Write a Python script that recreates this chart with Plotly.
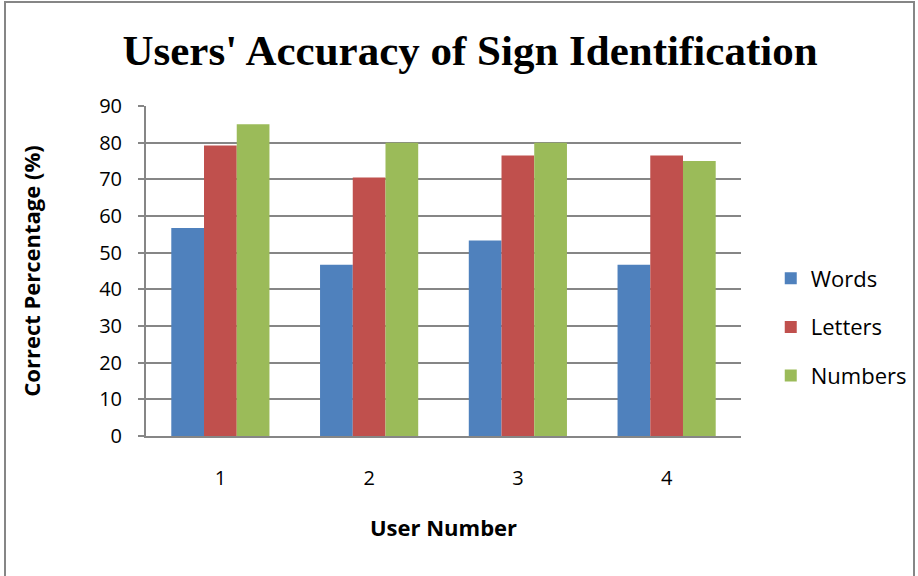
import plotly.graph_objects as go

users = ["1", "2", "3", "4"]
words = [56.7, 46.7, 53.3, 46.7]
letters = [79.2, 70.5, 76.5, 76.5]
numbers = [85, 80, 80, 75]
series_names = ["Words", "Letters", "Numbers"]
series_colors = ["#4F81BD", "#C0504D", "#9BBB59"]
y_ticks = [0, 10, 20, 30, 40, 50, 60, 70, 80, 90]

font_family = "'Open Sans', sans-serif"

fig = go.Figure()
for i, (name, vals, col) in enumerate(zip(series_names, [words, letters, numbers], series_colors)):
    fig.add_trace(go.Bar(x=users, y=vals, name=name, marker=dict(color=col, line=dict(width=0)),
                         legendgroup=name))

fig.update_layout(
    width=918, height=576,
    paper_bgcolor="white", plot_bgcolor="white",
    margin=dict(l=146, r=177, t=106, b=140, autoexpand=False),
    barmode="group", bargap=0.34, bargroupgap=0,
    title=dict(text="<b>Users' Accuracy of Sign Identification</b>",
               font=dict(family="'Liberation Serif', 'Times New Roman', serif", size=43, color="black"),
               x=0.512, xref="container", xanchor="center",
               y=1 - 50 / 576, yref="container", yanchor="middle"),
    font=dict(family=font_family, size=20, color="black"),
    legend=dict(x=1.05, xanchor="left", y=(436 - 327) / 330, yanchor="middle",
                font=dict(family=font_family, size=22, color="black"),
                tracegroupgap=17, itemwidth=30),
    showlegend=True,
    xaxis=dict(title=dict(text="<b>User Number</b>", font=dict(size=22), standoff=31),
               showline=True, linecolor="#868686", linewidth=2,
               ticks="", ticklabelstandoff=23, showgrid=False),
    yaxis=dict(title=dict(text="<b>Correct Percentage (%)</b>", font=dict(size=22), standoff=52),
               range=[0, 90], tickvals=y_ticks, showline=True, linecolor="#868686", linewidth=2,
               ticks="outside", ticklen=6, tickcolor="#868686", tickwidth=2,
               ticklabelstandoff=12,
               showgrid=True, gridcolor="#868686", gridwidth=1.5, zeroline=False),
)

fig.add_shape(type="rect", xref="paper", yref="paper",
              x0=(5 - 146) / 595, x1=(914 - 146) / 595,
              y0=(436 - 590) / 330, y1=(436 - 2) / 330,
              line=dict(color="#868686", width=2), fillcolor="rgba(0,0,0,0)", layer="below")

fig.write_html("out.html", config={"displayModeBar": False},
               post_script="document.body.style.margin='0';document.body.style.overflow='hidden';")
